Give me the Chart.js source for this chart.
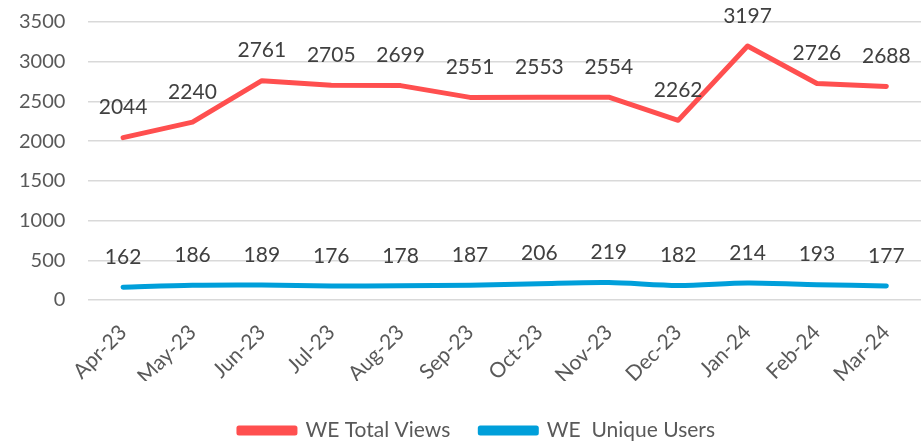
<!DOCTYPE html>
<html>
<head>
<meta charset="utf-8">
<script src="https://cdn.jsdelivr.net/npm/chart.js@4"></script>
<style>
  html, body { margin: 0; padding: 0; background: #fff; }
  #wrap { width: 921px; height: 442px; }
</style>
</head>
<body>
<div id="wrap"><canvas id="myChart" width="921" height="442"></canvas></div>
<script>
var months = ["Apr-23", "May-23", "Jun-23", "Jul-23", "Aug-23", "Sep-23", "Oct-23", "Nov-23", "Dec-23", "Jan-24", "Feb-24", "Mar-24"];
var totalViews = [2044, 2240, 2761, 2705, 2699, 2551, 2553, 2554, 2262, 3197, 2726, 2688];
var uniqueUsers = [162, 186, 189, 176, 178, 187, 206, 219, 182, 214, 193, 177];
var yTicks = [0, 500, 1000, 1500, 2000, 2500, 3000, 3500];

var FONT = "Lato, 'Open Sans', sans-serif";
var LEGEND_PAD = 30;
var PLOT_BOTTOM = 300;   // where the 0 line sits
var LEGEND_MID = 432;    // vertical middle of the legend row

var tweaks = {
  id: 'tweaks',
  afterLayout: function(chart) {
    // push the legend row down toward the bottom edge
    var lg = chart.legend;
    var shift = LEGEND_MID - (lg.top + LEGEND_PAD + 12);
    lg.top += shift;
    lg.bottom += shift;
    lg.left += 8;
    lg.right += 8;
  },
  // draws the value above every point, like the excel data labels
  afterDatasetsDraw: function(chart) {
    var ctx = chart.ctx;
    ctx.save();
    ctx.font = "21px " + FONT;
    ctx.fillStyle = "#404040";
    ctx.textAlign = "center";
    ctx.textBaseline = "middle";
    chart.data.datasets.forEach(function(ds, i) {
      var meta = chart.getDatasetMeta(i);
      meta.data.forEach(function(pt, j) {
        ctx.fillText(ds.data[j], pt.x, pt.y - 30);
      });
    });
    ctx.restore();
  }
};

var ctx = document.getElementById("myChart").getContext("2d");
new Chart(ctx, {
  type: 'line',
  data: {
    labels: months,
    datasets: [{
      label: "WE Total Views",
      data: totalViews,
      borderColor: "#FF4F4F",
      backgroundColor: "#FF4F4F",
      borderWidth: 5,
      pointRadius: 0,
      tension: 0,
      borderCapStyle: 'round',
      borderJoinStyle: 'round'
    }, {
      label: "WE  Unique Users",
      data: uniqueUsers,
      borderColor: "#009FDA",
      backgroundColor: "#009FDA",
      borderWidth: 5,
      pointRadius: 0,
      tension: 0.3,
      borderCapStyle: 'round',
      borderJoinStyle: 'round'
    }]
  },
  options: {
    responsive: false,
    animation: false,
    layout: { padding: { top: 22, right: 0, left: 17, bottom: 0 } },
    plugins: {
      legend: {
        position: 'bottom',
        labels: {
          font: { family: FONT, size: 21 },
          color: "#595959",
          boxWidth: 56,
          boxHeight: 5,
          padding: LEGEND_PAD
        }
      },
      tooltip: { enabled: false }
    },
    scales: {
      x: {
        offset: true,
        grid: { display: false },
        border: { display: false },
        afterFit: function(scale) {
          var c = scale.chart;
          scale.height = c.height - c.legend.height - PLOT_BOTTOM;
        },
        ticks: {
          font: { family: FONT, size: 21 },
          color: "#595959",
          maxRotation: 45,
          minRotation: 45,
          padding: 12
        }
      },
      y: {
        min: 0,
        max: 3500,
        afterBuildTicks: function(axis) {
          axis.ticks = yTicks.map(function(v) { return { value: v }; });
        },
        grid: { color: "#D9D9D9", lineWidth: 1.5, drawTicks: true, tickLength: 21, tickColor: 'rgba(0,0,0,0)' },
        border: { display: false },
        ticks: {
          font: { family: FONT, size: 20 },
          color: "#595959",
          padding: 2,
          callback: function(v) { return String(v); }
        }
      }
    }
  },
  plugins: [tweaks]
});
</script>
</body>
</html>
